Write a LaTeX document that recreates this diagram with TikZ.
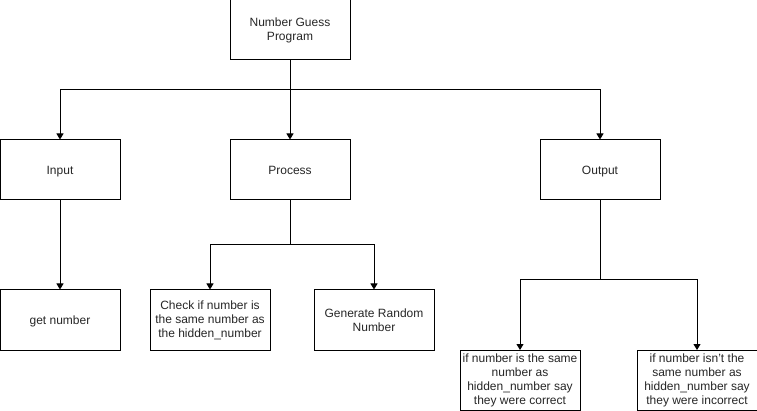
\documentclass[tikz,border=0pt]{standalone}
\usepackage{fontspec}
\setmainfont{Liberation Sans}
\usetikzlibrary{arrows.meta}
\begin{document}
\begin{tikzpicture}[x=1pt,y=-1pt,
  box/.style={draw=black,line width=1pt,minimum width=120pt,minimum height=60pt,inner sep=0pt,align=center,font=\fontsize{12}{14}\selectfont,text=black!85},
  oneline/.style={text height=10pt,text depth=1.2pt},
  conn/.style={draw=black,line width=1pt,-{Triangle[width=7pt,length=6pt]}},
  plain/.style={draw=black,line width=1pt}]
\useasboundingbox (0,0) rectangle (757,411);
\node[box] (top) at (290,30) {Number Guess\\Program};
\node[box,oneline] (in) at (60,170) {Input};
\node[box,oneline] (proc) at (290,170) {Process};
\node[box,oneline] (out) at (600,170) {Output};
\node[box,oneline] (get) at (60,320) {get number};
\node[box] (chk) at (210,320) {Check if number is\\the same number as\\the hidden\_number};
\node[box] (gen) at (374,320) {Generate Random\\Number};
\node[box] (cor) at (520,380.5) {if number is the same\\number as\\hidden\_number say\\they were correct};
\node[box] (inc) at (697,380.5) {if number isn't the\\same number as\\hidden\_number say\\they were incorrect};
\coordinate (j1) at (290,90);
\coordinate (j2) at (290,245);
\coordinate (j3) at (600,280);
\draw[plain] (top.south) -- (j1);
\draw[conn] (j1) -| (in.north);
\draw[conn] (j1) -- (proc.north);
\draw[conn] (j1) -| (out.north);
\draw[conn] (in.south) -- (get.north);
\draw[plain] (proc.south) -- (j2);
\draw[conn] (j2) -| (chk.north);
\draw[conn] (j2) -| (gen.north);
\draw[plain] (out.south) -- (j3);
\draw[conn] (j3) -| (cor.north);
\draw[conn] (j3) -| (inc.north);
\end{tikzpicture}
\end{document}
